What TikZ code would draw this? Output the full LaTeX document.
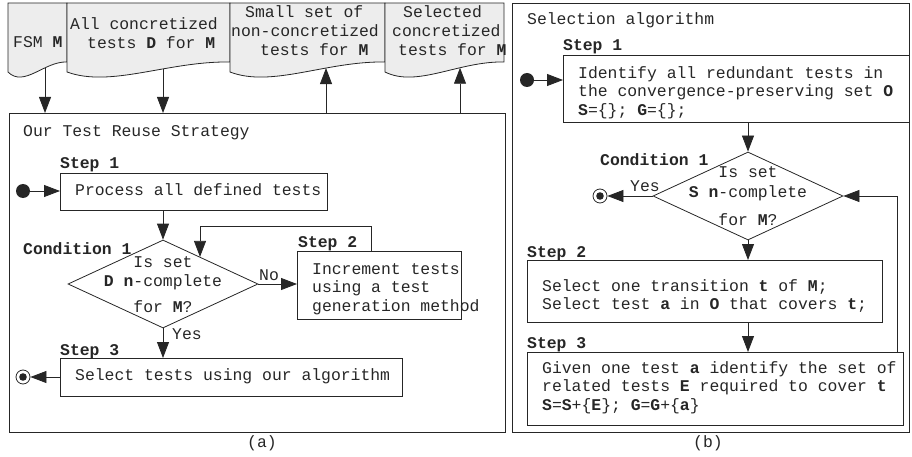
\documentclass[tikz,border=0pt]{standalone}
\usepackage{fontspec}
\setmainfont{Liberation Mono}
\usetikzlibrary{arrows.meta,shapes.geometric,calc,intersections}
\definecolor{docgray}{HTML}{EDEDED}
\definecolor{ink}{HTML}{262626}
\newcommand\docpath[3]{%
  \pgfmathsetmacro\ca{#1+0.27*(#2-#1)}%
  \pgfmathsetmacro\cb{#1+0.62*(#2-#1)}%
  \draw[docst, name path=#3] (#1,72) -- (#1,3) -- (#2,3) -- (#2,62) .. controls (\cb,61) and (\ca,88) .. (#1,72) -- cycle;}
\begin{document}
\begin{tikzpicture}[x=1pt,y=-1pt,
  font=\fontsize{16.4}{18.8}\selectfont,
  ln/.style={line width=0.8pt, draw=ink},
  arr/.style={ln, -{Triangle[length=16pt,width=12pt]}},
  docst/.style={ln, fill=docgray},
  boxn/.style={ln, rectangle, inner sep=0pt, anchor=north west},
  txt/.style={inner sep=0pt, anchor=base west, text=ink},
  ctxt/.style={inner sep=0pt, anchor=base, text=ink},
  mtxt/.style={inner sep=0pt, anchor=north west, align=left, text=ink},
  dia/.style={ln, diamond, inner sep=0pt, minimum width=190pt, minimum height=88pt},
  initdot/.style={circle, fill=ink, inner sep=0pt, minimum size=14pt},
  finaldot/.style={circle, ln, inner sep=0pt, minimum size=14pt,
     path picture={\fill[ink] (path picture bounding box.center) circle (3.8pt);}}
]
\useasboundingbox (0,0) rectangle (912,457);

% ---------- documents ----------
\docpath{8}{67}{doc1}
\docpath{67}{230}{doc2}
\docpath{230}{385}{doc3}
\docpath{385}{504}{doc4}
\node[txt] (t1) at (13,48) {FSM \textbf{M}};
\node[txt] (t2a) at (70,30) {All concretized};
\node[txt] (t2b) at (87,49) {tests \textbf{D} for \textbf{M}};
\node[txt] (t3a) at (245,18) {Small set of};
\node[txt] (t3b) at (231,37) {non-concretized};
\node[txt] (t3c) at (260,56) {tests for \textbf{M}};
\node[txt] (t4a) at (403,18) {Selected};
\node[txt] (t4b) at (392,37) {concretized};
\node[txt] (t4c) at (398,56) {tests for \textbf{M}};

% ---------- left panel ----------
\node[boxn, minimum width=496pt, minimum height=319pt] (strat) at (9,113) {};
\path[name path=v1] (45,40) -- (45,120);
\path[name path=v2] (163,40) -- (163,120);
\path[name path=v3] (326,40) -- (326,120);
\path[name path=v4] (460,40) -- (460,120);
\path[name intersections={of=doc1 and v1, by=dd1}];
\path[name intersections={of=doc2 and v2, by=dd2}];
\path[name intersections={of=doc3 and v3, by=dd3}];
\path[name intersections={of=doc4 and v4, by=dd4}];
\draw[arr] (dd1) -- (dd1 |- strat.north);
\draw[arr] (dd2) -- (dd2 |- strat.north);
\draw[arr] (dd3 |- strat.north) -- (dd3);
\draw[arr] (dd4 |- strat.north) -- (dd4);

\node[txt] (ttl) at (23,137) {Our Test Reuse Strategy};

\node[txt] (ls1) at (60,169) {\textbf{Step 1}};
\node[boxn, minimum width=267pt, minimum height=37pt] (s1) at (60,173) {};
\node[txt] (s1t) at (75,196) {Process all defined tests};
\node[initdot] (i1) at (23,191) {};
\draw[arr] (i1) -- (i1 -| s1.west);

\node[txt] (lc1) at (23,254) {\textbf{Condition 1}};
\node[dia] (d1) at (163,284) {};
\node[ctxt] (d1a) at (163,267) {Is set};
\node[ctxt] (d1b) at (163,286) {\textbf{D} \textbf{n}-complete};
\node[ctxt] (d1c) at (163,312) {for \textbf{M}?};
\draw[arr] (s1.south -| d1.north) -- (d1.north);

\node[txt] (ls2) at (298,247) {\textbf{Step 2}};
\node[boxn, minimum width=164pt, minimum height=68pt] (s2) at (297,251) {};
\node[mtxt] (s2t) at (312,260.8) {\strut Increment tests\\\strut using a test\\\strut generation method};
\draw[arr] (d1.east) -- (d1.east -| s2.west);
\node[ctxt] (no) at (269,280) {No};
\coordinate (lp1) at (371,226);
\coordinate (lp2) at (200,226);
\coordinate (dtop) at ($(d1.north)!0.39!(d1.east)$);
\draw[arr] (s2.north -| lp1) -- (lp1) -- (lp2) -- (lp2 |- dtop);

\node[txt] (ls3) at (60,355) {\textbf{Step 3}};
\node[boxn, minimum width=342pt, minimum height=38pt] (s3) at (60,358) {};
\node[txt] (s3t) at (75,380) {Select tests using our algorithm};
\draw[arr] (d1.south) -- (d1.south |- s3.north);
\node[txt] (yes1) at (172,339) {Yes};
\node[finaldot] (f1) at (23,377) {};
\draw[arr] (s3.west |- f1) -- (f1);

\node[ctxt] (capa) at (262,447) {(a)};

% ---------- right panel ----------
\node[boxn, minimum width=397pt, minimum height=429pt] (panel) at (512,3) {};
\node[txt] (ttr) at (527,25) {Selection algorithm};

\node[txt] (lr1) at (563,51) {\textbf{Step 1}};
\node[boxn, minimum width=346pt, minimum height=67pt] (r1) at (563,55) {};
\node[mtxt] (r1t) at (578,64.8) {\strut Identify all redundant tests in\\\strut the convergence-preserving set \textbf{O}\\\strut \textbf{S}=\{\}; \textbf{G}=\{\};};
\node[initdot] (i2) at (527,80) {};
\draw[arr] (i2) -- (i2 -| r1.west);

\node[txt] (lc2) at (600,166) {\textbf{Condition 1}};
\node[dia] (d2) at (748,196) {};
\node[ctxt] (d2a) at (748,178) {Is set};
\node[ctxt] (d2b) at (748,197) {\textbf{S} \textbf{n}-complete};
\node[ctxt] (d2c) at (748,225) {for \textbf{M}?};
\draw[arr] (r1.south -| d2.north) -- (d2.north);
\node[finaldot] (f2) at (600,196) {};
\draw[arr] (d2.west) -- (f2);
\node[txt] (yes2) at (630,192) {Yes};

\node[txt] (lr2) at (527,257) {\textbf{Step 2}};
\node[boxn, minimum width=355pt, minimum height=62pt] (r2) at (527,260) {};
\node[mtxt] (r2t) at (542,277.8) {\strut Select one transition \textbf{t} of \textbf{M};\\\strut Select test \textbf{a} in \textbf{O} that covers \textbf{t};};
\draw[arr] (d2.south) -- (d2.south |- r2.north);

\node[txt] (lr3) at (527,348) {\textbf{Step 3}};
\node[boxn, minimum width=376pt, minimum height=73pt] (r3) at (527,352) {};
\node[mtxt] (r3t) at (542,359.8) {\strut Given one test \textbf{a} identify the set of\\\strut related tests \textbf{E} required to cover \textbf{t}\\\strut \textbf{S}=\textbf{S}+\{\textbf{E}\}; \textbf{G}=\textbf{G}+\{\textbf{a}\}};
\draw[arr] (r2.south -| d2.south) -- (r3.north -| d2.south);
\coordinate (rl) at (897,196);
\draw[arr] (r3.north -| rl) -- (rl) -- (d2.east);

\node[ctxt] (capb) at (708,447) {(b)};
\end{tikzpicture}
\end{document}
